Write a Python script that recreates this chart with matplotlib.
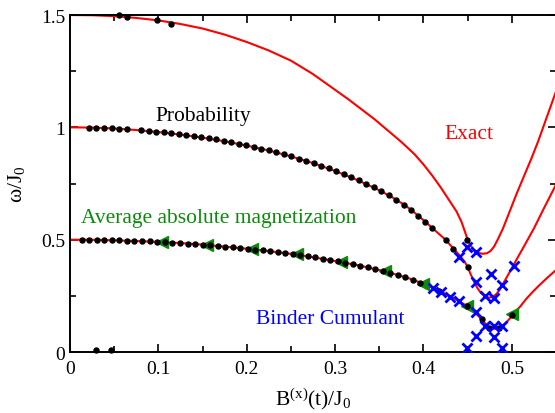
import numpy as np
import matplotlib.pyplot as plt
from matplotlib.ticker import MultipleLocator

plt.rcParams['font.family'] = ['Liberation Serif', 'DejaVu Serif']
plt.rcParams['mathtext.fontset'] = 'custom'
plt.rcParams['mathtext.rm'] = 'Liberation Serif'
plt.rcParams['mathtext.it'] = 'Liberation Serif:italic'

# exact gap branches (B, omega)
exact_top_b = [0.0, 0.025, 0.05, 0.075, 0.10, 0.125, 0.15, 0.175, 0.20, 0.225, 0.25, 0.275,
               0.30, 0.315, 0.33, 0.345, 0.36, 0.375, 0.39, 0.40, 0.41, 0.42, 0.43, 0.4375,
               0.443, 0.447, 0.450, 0.453, 0.457, 0.462, 0.467, 0.472, 0.476, 0.480, 0.484,
               0.49, 0.498, 0.506, 0.514, 0.522, 0.53, 0.54, 0.55]
exact_top_w = [1.500, 1.499, 1.495, 1.487, 1.476, 1.46, 1.44, 1.413, 1.38, 1.342, 1.297, 1.237,
               1.167, 1.125, 1.08, 1.035, 0.985, 0.935, 0.88, 0.835, 0.785, 0.73, 0.67, 0.625,
               0.58, 0.535, 0.50, 0.475, 0.455, 0.442, 0.437, 0.44, 0.45, 0.47, 0.50,
               0.55, 0.63, 0.71, 0.785, 0.86, 0.94, 1.05, 1.16]

exact_mid_b = [0.0, 0.025, 0.05, 0.075, 0.10, 0.125, 0.15, 0.175, 0.20, 0.225, 0.25, 0.275,
               0.30, 0.325, 0.35, 0.365, 0.38, 0.39, 0.40, 0.41, 0.418, 0.425, 0.434, 0.442,
               0.446, 0.45, 0.453, 0.457, 0.461, 0.465, 0.469, 0.474, 0.478, 0.482, 0.486,
               0.491, 0.497, 0.502, 0.508, 0.514, 0.525, 0.537, 0.55]
exact_mid_w = [1.0, 0.999, 0.995, 0.988, 0.979, 0.968, 0.954, 0.938, 0.919, 0.897, 0.871, 0.841,
               0.806, 0.766, 0.72, 0.688, 0.651, 0.62, 0.587, 0.552, 0.524, 0.50, 0.46, 0.425,
               0.405, 0.38, 0.35, 0.315, 0.285, 0.263, 0.25, 0.242, 0.245, 0.256, 0.275,
               0.31, 0.352, 0.388, 0.43, 0.472, 0.55, 0.645, 0.745]

exact_bot_b = [0.0, 0.025, 0.05, 0.075, 0.10, 0.125, 0.15, 0.175, 0.20, 0.225, 0.25, 0.275,
               0.30, 0.325, 0.35, 0.37, 0.385, 0.40, 0.41, 0.42, 0.43, 0.44, 0.449, 0.455,
               0.461, 0.466, 0.47, 0.474, 0.478, 0.482, 0.486, 0.49, 0.495, 0.50, 0.505,
               0.51, 0.516, 0.523, 0.53, 0.54, 0.55]
exact_bot_w = [0.5, 0.4995, 0.497, 0.494, 0.49, 0.485, 0.478, 0.469, 0.46, 0.449, 0.437, 0.422,
               0.405, 0.387, 0.365, 0.344, 0.326, 0.304, 0.287, 0.268, 0.249, 0.228, 0.205, 0.186,
               0.165, 0.145, 0.127, 0.112, 0.104, 0.103, 0.108, 0.118, 0.137, 0.16, 0.183,
               0.205, 0.235, 0.265, 0.293, 0.33, 0.365]

# probability estimates
prob_top_b = [0.029, 0.046, 0.055, 0.064, 0.098, 0.114, 0.449]
prob_top_w = [0.01, 0.01, 1.50, 1.49, 1.48, 1.46, 0.50]

prob_mid_b = [0.021, 0.030, 0.039, 0.047, 0.056, 0.064, 0.080, 0.089, 0.097, 0.106, 0.114,
              0.123, 0.131, 0.140, 0.148, 0.157, 0.165, 0.174, 0.182, 0.191, 0.199, 0.208,
              0.216, 0.225, 0.233, 0.242, 0.250, 0.259, 0.267, 0.276, 0.284, 0.293, 0.301,
              0.310, 0.318, 0.327, 0.335, 0.344, 0.352, 0.361, 0.369, 0.378, 0.386, 0.394,
              0.402, 0.410, 0.425, 0.434, 0.450]
prob_mid_w = [0.999, 0.998, 0.997, 0.996, 0.994, 0.992, 0.987, 0.984, 0.981, 0.978, 0.974,
              0.970, 0.966, 0.961, 0.956, 0.951, 0.946, 0.940, 0.934, 0.927, 0.920, 0.913,
              0.905, 0.897, 0.889, 0.880, 0.871, 0.861, 0.851, 0.840, 0.829, 0.817, 0.805,
              0.792, 0.779, 0.764, 0.749, 0.733, 0.716, 0.697, 0.677, 0.655, 0.632, 0.607,
              0.580, 0.552, 0.50, 0.46, 0.38]

prob_bot_b = [0.014, 0.022, 0.031, 0.039, 0.048, 0.056, 0.065, 0.073, 0.082, 0.090, 0.099,
              0.107, 0.116, 0.124, 0.133, 0.141, 0.150, 0.158, 0.167, 0.175, 0.184, 0.192,
              0.201, 0.209, 0.218, 0.226, 0.235, 0.243, 0.252, 0.260, 0.269, 0.277, 0.286,
              0.294, 0.303, 0.311, 0.320, 0.328, 0.337, 0.345, 0.354, 0.362, 0.371, 0.379,
              0.388, 0.396, 0.418, 0.449, 0.466, 0.474, 0.485, 0.500]
prob_bot_w = [0.500, 0.500, 0.499, 0.498, 0.498, 0.497, 0.496, 0.495, 0.493, 0.492, 0.490,
              0.489, 0.487, 0.485, 0.482, 0.480, 0.478, 0.475, 0.472, 0.469, 0.466, 0.463,
              0.459, 0.456, 0.452, 0.448, 0.444, 0.440, 0.436, 0.431, 0.426, 0.421, 0.416,
              0.410, 0.404, 0.398, 0.391, 0.385, 0.377, 0.370, 0.361, 0.353, 0.343, 0.334,
              0.322, 0.309, 0.27, 0.205, 0.145, 0.105, 0.107, 0.165]

# average absolute magnetization estimates
mag_b = [0.104, 0.155, 0.206, 0.257, 0.307, 0.356, 0.399, 0.449, 0.500]
mag_w = [0.489, 0.477, 0.458, 0.435, 0.401, 0.36, 0.303, 0.205, 0.168]

# Binder cumulant estimates
binder_b = [0.411, 0.42, 0.43, 0.44, 0.46, 0.44, 0.449, 0.46, 0.46, 0.47, 0.48, 0.477,
            0.489, 0.502, 0.47, 0.48, 0.489, 0.46, 0.48, 0.449, 0.489]
binder_w = [0.285, 0.268, 0.245, 0.228, 0.178, 0.424, 0.467, 0.446, 0.31, 0.25, 0.24, 0.348,
            0.30, 0.384, 0.116, 0.116, 0.116, 0.071, 0.067, 0.02, 0.02]

red = '#ff0000'
green = '#0a8c0a'
blue = '#0000ff'

fig = plt.figure(figsize=(5.55, 4.14), dpi=100)
ax = fig.add_axes([0.1261, 0.1473, 0.8757, 0.8140])

for b, w in [(exact_top_b, exact_top_w), (exact_mid_b, exact_mid_w), (exact_bot_b, exact_bot_w)]:
    ax.plot(b, w, color=red, lw=1.5, zorder=2, solid_joinstyle='round')

ax.plot(mag_b, mag_w, '<', color=green, ms=9, mec=green, zorder=3, clip_on=False)
for b, w in [(prob_top_b, prob_top_w), (prob_mid_b, prob_mid_w), (prob_bot_b, prob_bot_w)]:
    ax.plot(b, w, 'o', color='black', ms=3.6, zorder=4, clip_on=False)
ax.plot(binder_b, binder_w, 'x', color=blue, ms=6.5, mew=2.0, zorder=5)

ax.text(0.151, 1.054, 'Probability', fontsize=15.5, color='black', ha='center', va='center')
ax.text(0.452, 0.973, 'Exact', fontsize=15.5, color=red, ha='center', va='center')
ax.text(0.168, 0.60, 'Average absolute magnetization', fontsize=15.5, color=green,
        ha='center', va='center')
ax.text(0.295, 0.147, 'Binder Cumulant', fontsize=15.5, color=blue, ha='center', va='center')

ax.set_xlim(0, 0.55)
ax.set_ylim(0, 1.5)
ax.xaxis.set_minor_locator(MultipleLocator(0.05))
ax.yaxis.set_minor_locator(MultipleLocator(0.25))
ax.set_xticks([0, 0.1, 0.2, 0.3, 0.4, 0.5])
ax.set_xticklabels(['0', '0.1', '0.2', '0.3', '0.4', '0.5'])
ax.set_yticks([0, 0.5, 1.0, 1.5])
ax.set_yticklabels(['0', '0.5', '1', '1.5'])
ax.tick_params(which='both', direction='in', top=True, right=True, labelsize=14, width=1.2)
ax.tick_params(which='major', length=6)
ax.tick_params(which='minor', length=4)
ax.tick_params(axis='x', pad=6)
for s in ax.spines.values():
    s.set_linewidth(1.4)

ax.set_xlabel('B$^{(\\mathrm{x})}$(t)/J$_0$', fontsize=15.5, labelpad=6)
ax.set_ylabel('ω/J$_0$', fontsize=15.5, labelpad=10)

fig.savefig('out.png', dpi=100)
